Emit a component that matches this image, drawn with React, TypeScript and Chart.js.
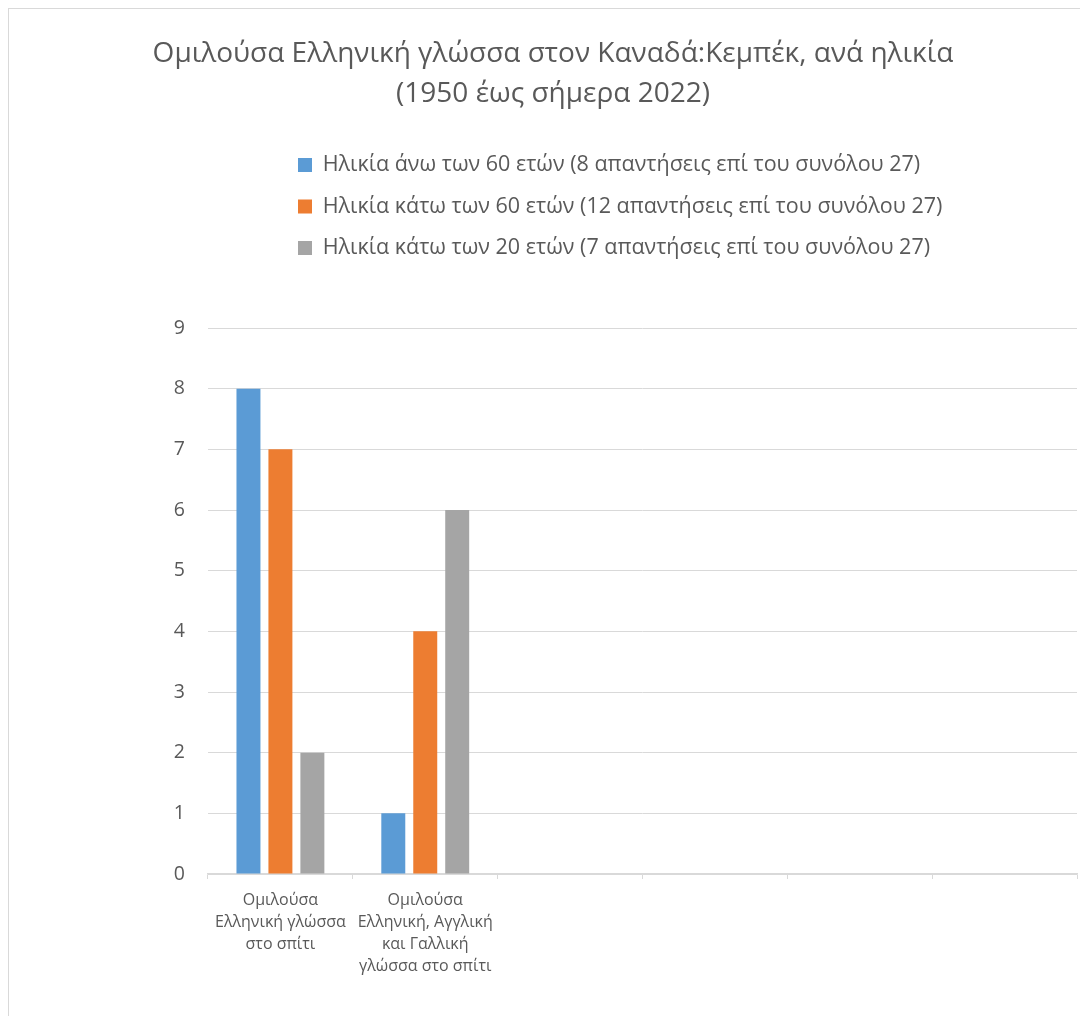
import React, { useEffect, useRef } from "react";
import { Chart, registerables } from "chart.js";

Chart.register(...registerables);

const titleLines = [
  "Ομιλούσα Ελληνική γλώσσα στον Καναδά:Κεμπέκ, ανά ηλικία",
  "(1950 έως σήμερα 2022)",
];

const categories: (string | string[])[] = [
  ["Ομιλούσα", "Ελληνική γλώσσα", "στο σπίτι"],
  ["Ομιλούσα", "Ελληνική, Αγγλική", "και Γαλλική", "γλώσσα στο σπίτι"],
  "",
  "",
  "",
  "",
];

const seriesLabels = [
  "Ηλικία άνω των 60 ετών (8 απαντήσεις επί του συνόλου 27)",
  "Ηλικία κάτω των 60 ετών (12 απαντήσεις επί του συνόλου 27)",
  "Ηλικία κάτω των 20 ετών (7 απαντήσεις επί του συνόλου 27)",
];

const over60 = [8, 1, null, null, null, null];
const under60 = [7, 4, null, null, null, null];
const under20 = [2, 6, null, null, null, null];

const yTicks = [0, 1, 2, 3, 4, 5, 6, 7, 8, 9];

const colors = ["#5B9BD5", "#ED7D31", "#A5A5A5"];
const textColor = "#595959";
const gridColor = "#D9D9D9";
const fontFamily = "'Open Sans', 'Noto Sans', sans-serif";

// Moves the legend block so its rows start under the title, left-aligned,
// while its laid-out space still pushes the plot area down.
const legendPlacement = {
  id: "legendPlacement",
  afterLayout(chart: any) {
    const l = chart.legend;
    if (!l) return;
    const dx = 249;
    const dy = -59.25;
    l.left += dx;
    l.right += dx;
    l.top += dy;
    l.bottom += dy;
  },
};

export default function App() {
  const canvasRef = useRef<HTMLCanvasElement | null>(null);

  useEffect(() => {
    if (!canvasRef.current) return;
    const chart = new Chart(canvasRef.current, {
      type: "bar",
      data: {
        labels: categories,
        datasets: [
          { label: seriesLabels[0], data: over60, backgroundColor: colors[0] },
          { label: seriesLabels[1], data: under60, backgroundColor: colors[1] },
          { label: seriesLabels[2], data: under20, backgroundColor: colors[2] },
        ],
      },
      options: {
        responsive: false,
        animation: false,
        layout: { padding: { left: 20, right: 20, top: 0, bottom: 0 } },
        datasets: {
          bar: { categoryPercentage: 0.662, barPercentage: 0.75 },
        },
        plugins: {
          title: {
            display: true,
            text: titleLines,
            color: textColor,
            font: { family: fontFamily, size: 28, weight: "normal", lineHeight: "40px" },
            padding: { top: 25, bottom: 79.5 },
          },
          legend: {
            display: true,
            position: "top",
            align: "start",
            labels: {
              color: textColor,
              boxWidth: 14,
              boxHeight: 14,
              padding: 20,
              font: { family: fontFamily, size: 21.5 },
            },
          },
          tooltip: { enabled: false },
        },
        scales: {
          x: {
            grid: {
              display: true,
              drawOnChartArea: false,
              drawTicks: true,
              tickLength: 5,
              color: gridColor,
              offset: true,
            },
            border: { display: true, color: gridColor, width: 1.5 },
            ticks: {
              color: textColor,
              padding: 10,
              maxRotation: 0,
              autoSkip: false,
              font: { family: fontFamily, size: 16, lineHeight: "22px" },
            },
            afterFit(axis: any) {
              axis.height = 142;
            },
          },
          y: {
            min: 0,
            max: 9,
            afterBuildTicks(axis: any) {
              axis.ticks = yTicks.map((v) => ({ value: v }));
            },
            grid: { color: gridColor, drawTicks: false, lineWidth: 1 },
            border: { display: false },
            ticks: {
              color: textColor,
              padding: 23,
              font: { family: fontFamily, size: 19.5 },
            },
            afterFit(axis: any) {
              axis.width = 179;
            },
          },
        },
      },
      plugins: [legendPlacement],
    });
    return () => chart.destroy();
  }, []);

  return (
    <div
      style={{
        width: 1080,
        height: 1008,
        overflow: "hidden",
        borderTop: `1px solid ${gridColor}`,
        borderLeft: `1px solid ${gridColor}`,
        boxSizing: "border-box",
        background: "#fff",
      }}
    >
      <canvas ref={canvasRef} width={1088} height={1007} style={{ display: "block" }} />
    </div>
  );
}
